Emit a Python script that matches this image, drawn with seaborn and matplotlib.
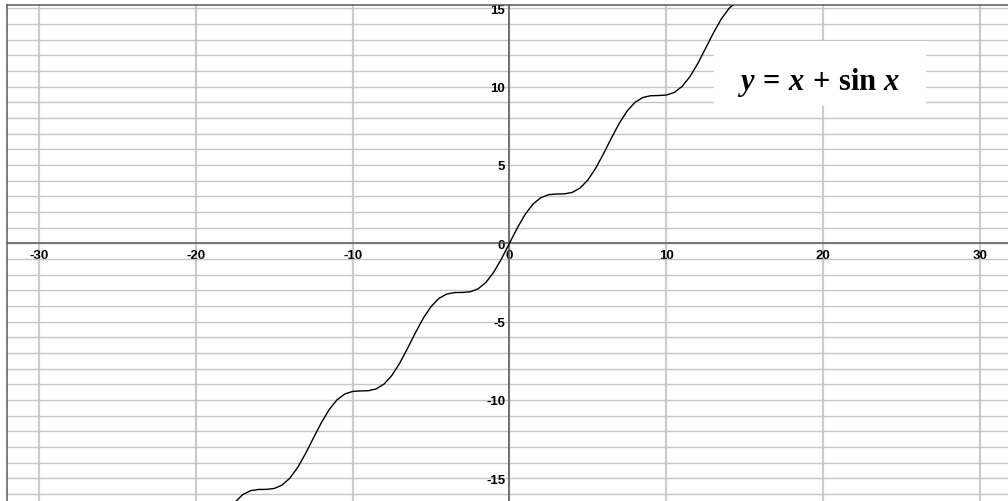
import matplotlib
matplotlib.use("Agg")
import matplotlib.pyplot as plt
import seaborn as sns
from matplotlib.patches import Rectangle
from matplotlib.ticker import MultipleLocator

# ---- data (curve y = x + sin x) ----
x_vals = [-17.5, -17.0, -16.5, -16.0, -15.5, -15.0, -14.5, -14.0, -13.5, -13.0,
          -12.5, -12.0, -11.5, -11.0, -10.5, -10.0, -9.5, -9.0, -8.5, -8.0,
          -7.5, -7.0, -6.5, -6.0, -5.5, -5.0, -4.5, -4.0, -3.5, -3.0,
          -2.5, -2.0, -1.5, -1.0, -0.5, 0.0, 0.5, 1.0, 1.5, 2.0,
          2.5, 3.0, 3.5, 4.0, 4.5, 5.0, 5.5, 6.0, 6.5, 7.0,
          7.5, 8.0, 8.5, 9.0, 9.5, 10.0, 10.5, 11.0, 11.5, 12.0,
          12.5, 13.0, 13.5, 14.0, 14.5]
y_vals = [-16.524, -16.039, -15.788, -15.712, -15.707, -15.650, -15.435, -14.991, -14.304, -13.420,
          -12.434, -11.463, -10.625, -10.000, -9.620, -9.456, -9.425, -9.412, -9.299, -8.989,
          -8.438, -7.657, -6.715, -5.721, -4.795, -4.041, -3.523, -3.243, -3.149, -3.141,
          -3.099, -2.909, -2.498, -1.842, -0.979, 0.000, 0.979, 1.842, 2.498, 2.909,
          3.099, 3.141, 3.149, 3.243, 3.523, 4.041, 4.795, 5.721, 6.715, 7.657,
          8.438, 8.989, 9.299, 9.412, 9.425, 9.456, 9.620, 10.000, 10.625, 11.463,
          12.434, 13.420, 14.304, 14.991, 15.435]

x_ticks = [-30, -20, -10, 0, 10, 20, 30]
y_ticks = [-15, -10, -5, 0, 5, 10, 15]
title_text = r"$y\,=\,x\,+\,\mathrm{sin}\ x$"

sns.set_style("white")
plt.rcParams["font.family"] = ["Liberation Sans", "DejaVu Sans"]
plt.rcParams["axes.unicode_minus"] = False
plt.rcParams["mathtext.fontset"] = "custom"
plt.rcParams["mathtext.rm"] = "Liberation Serif:bold"
plt.rcParams["mathtext.it"] = "Liberation Serif:italic:bold"
plt.rcParams["mathtext.bf"] = "Liberation Serif:bold"

fig = plt.figure(figsize=(10.08, 5.02), dpi=100)
ax = fig.add_axes([0.00744, -0.0016, 0.996, 0.9896])
ax.set_xlim(-32, 32)
ax.set_ylim(-16.5, 15.2)

sns.lineplot(x=x_vals, y=y_vals, color="black", linewidth=1.0,
             estimator=None, sort=False, ax=ax, zorder=4)

# grid
ax.set_axisbelow(True)
ax.xaxis.set_major_locator(MultipleLocator(10))
ax.yaxis.set_major_locator(MultipleLocator(5))
ax.yaxis.set_minor_locator(MultipleLocator(1))
ax.set_xticks(x_ticks)
ax.set_yticks(y_ticks)
ax.grid(True, axis="x", which="major", color="#cccccc", linewidth=1.6)
ax.grid(True, axis="y", which="both", color="#c6c6c6", linewidth=1.0)

# spines: center axes + frame
spine_col = "#5a5a5a"
ax.spines["bottom"].set_position(("data", 0))
ax.spines["left"].set_position(("data", 0))
ax.spines["right"].set_position(("axes", 0.0))
for s in ["bottom", "left", "right", "top"]:
    ax.spines[s].set_color(spine_col)
    ax.spines[s].set_linewidth(1.1)
    ax.spines[s].set_visible(True)
    ax.spines[s].set_zorder(3)

ax.tick_params(axis="both", which="both", length=0, labelcolor="black")
ax.tick_params(axis="x", pad=4.5, labelsize=9.5)
ax.tick_params(axis="y", pad=3, labelsize=9.5)
ax.yaxis.set_ticks_position("left")
ax.xaxis.set_ticks_position("bottom")
for lab in ax.get_xticklabels() + ax.get_yticklabels():
    lab.set_fontweight("bold")
ax.set_xlabel("")
ax.set_ylabel("")

# equation box
ax.add_patch(Rectangle((0.7038, 0.7967), 0.2112, 0.1308, transform=ax.transAxes,
                       facecolor="white", edgecolor="none", zorder=2.8))
ax.text(0.8083, 0.831, title_text, transform=ax.transAxes, ha="center",
        va="baseline", fontsize=22, color="black", zorder=5)

fig.savefig("out.png", dpi=100)
